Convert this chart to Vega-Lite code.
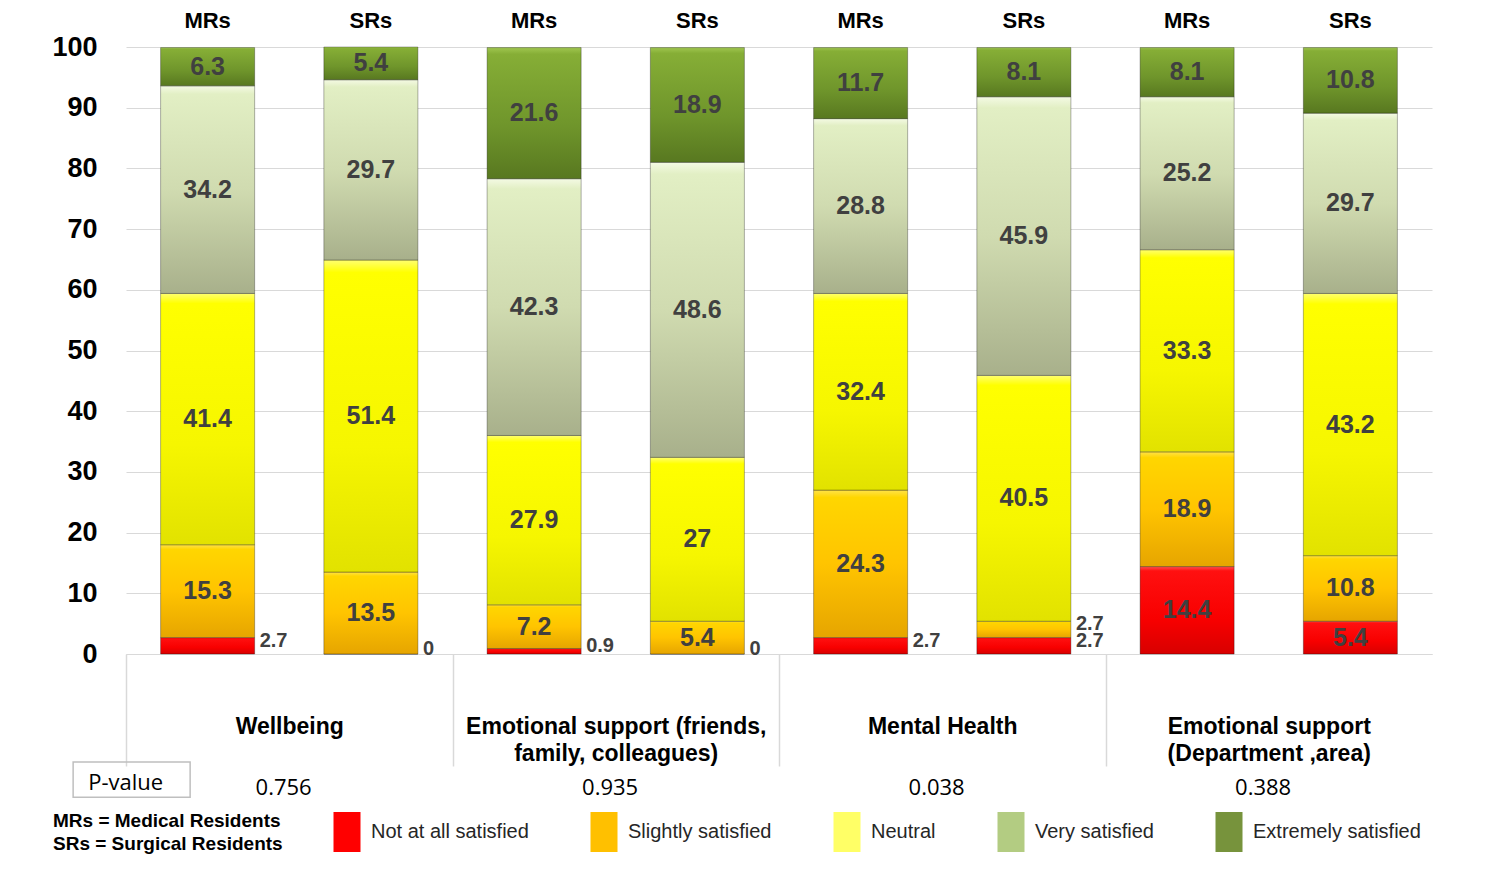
{
  "$schema": "https://vega.github.io/schema/vega-lite/v6.json",
  "autosize": {"type": "none"},
  "width": 1306,
  "height": 607,
  "padding": {"left": 126, "top": 47, "right": 56, "bottom": 237},
  "background": "white",
  "config": {"view": {"stroke": null}, "font": "Liberation Sans"},
  "datasets": {
    "bars": [
      {"bar": "Wellbeing|MRs", "level": "Not at all satisfied", "k": 1, "value": 2.7},
      {"bar": "Wellbeing|MRs", "level": "Slightly satisfied", "k": 2, "value": 15.3},
      {"bar": "Wellbeing|MRs", "level": "Neutral", "k": 3, "value": 41.4},
      {"bar": "Wellbeing|MRs", "level": "Very satisfied", "k": 4, "value": 34.2},
      {"bar": "Wellbeing|MRs", "level": "Extremely satisfied", "k": 5, "value": 6.3},
      {"bar": "Wellbeing|SRs", "level": "Not at all satisfied", "k": 1, "value": 0},
      {"bar": "Wellbeing|SRs", "level": "Slightly satisfied", "k": 2, "value": 13.5},
      {"bar": "Wellbeing|SRs", "level": "Neutral", "k": 3, "value": 51.4},
      {"bar": "Wellbeing|SRs", "level": "Very satisfied", "k": 4, "value": 29.7},
      {"bar": "Wellbeing|SRs", "level": "Extremely satisfied", "k": 5, "value": 5.4},
      {"bar": "Emotional support (friends,\nfamily, colleagues)|MRs", "level": "Not at all satisfied", "k": 1, "value": 0.9},
      {"bar": "Emotional support (friends,\nfamily, colleagues)|MRs", "level": "Slightly satisfied", "k": 2, "value": 7.2},
      {"bar": "Emotional support (friends,\nfamily, colleagues)|MRs", "level": "Neutral", "k": 3, "value": 27.9},
      {"bar": "Emotional support (friends,\nfamily, colleagues)|MRs", "level": "Very satisfied", "k": 4, "value": 42.3},
      {"bar": "Emotional support (friends,\nfamily, colleagues)|MRs", "level": "Extremely satisfied", "k": 5, "value": 21.6},
      {"bar": "Emotional support (friends,\nfamily, colleagues)|SRs", "level": "Not at all satisfied", "k": 1, "value": 0},
      {"bar": "Emotional support (friends,\nfamily, colleagues)|SRs", "level": "Slightly satisfied", "k": 2, "value": 5.4},
      {"bar": "Emotional support (friends,\nfamily, colleagues)|SRs", "level": "Neutral", "k": 3, "value": 27},
      {"bar": "Emotional support (friends,\nfamily, colleagues)|SRs", "level": "Very satisfied", "k": 4, "value": 48.6},
      {"bar": "Emotional support (friends,\nfamily, colleagues)|SRs", "level": "Extremely satisfied", "k": 5, "value": 18.9},
      {"bar": "Mental Health|MRs", "level": "Not at all satisfied", "k": 1, "value": 2.7},
      {"bar": "Mental Health|MRs", "level": "Slightly satisfied", "k": 2, "value": 24.3},
      {"bar": "Mental Health|MRs", "level": "Neutral", "k": 3, "value": 32.4},
      {"bar": "Mental Health|MRs", "level": "Very satisfied", "k": 4, "value": 28.8},
      {"bar": "Mental Health|MRs", "level": "Extremely satisfied", "k": 5, "value": 11.7},
      {"bar": "Mental Health|SRs", "level": "Not at all satisfied", "k": 1, "value": 2.7},
      {"bar": "Mental Health|SRs", "level": "Slightly satisfied", "k": 2, "value": 2.7},
      {"bar": "Mental Health|SRs", "level": "Neutral", "k": 3, "value": 40.5},
      {"bar": "Mental Health|SRs", "level": "Very satisfied", "k": 4, "value": 45.9},
      {"bar": "Mental Health|SRs", "level": "Extremely satisfied", "k": 5, "value": 8.1},
      {"bar": "Emotional support\n(Department ,area)|MRs", "level": "Not at all satisfied", "k": 1, "value": 14.4},
      {"bar": "Emotional support\n(Department ,area)|MRs", "level": "Slightly satisfied", "k": 2, "value": 18.9},
      {"bar": "Emotional support\n(Department ,area)|MRs", "level": "Neutral", "k": 3, "value": 33.3},
      {"bar": "Emotional support\n(Department ,area)|MRs", "level": "Very satisfied", "k": 4, "value": 25.2},
      {"bar": "Emotional support\n(Department ,area)|MRs", "level": "Extremely satisfied", "k": 5, "value": 8.1},
      {"bar": "Emotional support\n(Department ,area)|SRs", "level": "Not at all satisfied", "k": 1, "value": 5.4},
      {"bar": "Emotional support\n(Department ,area)|SRs", "level": "Slightly satisfied", "k": 2, "value": 10.8},
      {"bar": "Emotional support\n(Department ,area)|SRs", "level": "Neutral", "k": 3, "value": 43.2},
      {"bar": "Emotional support\n(Department ,area)|SRs", "level": "Very satisfied", "k": 4, "value": 29.7},
      {"bar": "Emotional support\n(Department ,area)|SRs", "level": "Extremely satisfied", "k": 5, "value": 10.8}
    ],
    "pvals": [
      {"bar": "Wellbeing|MRs", "p": "0.756"},
      {"bar": "Emotional support (friends,\nfamily, colleagues)|MRs", "p": "0.935"},
      {"bar": "Mental Health|MRs", "p": "0.038"},
      {"bar": "Emotional support\n(Department ,area)|MRs", "p": "0.388"}
    ]
  },
  "data": {"name": "bars"},
  "layer": [
    {
      "mark": {"type": "bar", "stroke": "#000000", "strokeOpacity": 0.3, "strokeWidth": 1},
      "encoding": {
        "x": {
          "field": "bar", "type": "nominal", "sort": null,
          "scale": {
            "domain": ["Wellbeing|MRs", "Wellbeing|SRs", "Emotional support (friends,\nfamily, colleagues)|MRs", "Emotional support (friends,\nfamily, colleagues)|SRs", "Mental Health|MRs", "Mental Health|SRs", "Emotional support\n(Department ,area)|MRs", "Emotional support\n(Department ,area)|SRs"],
            "paddingInner": 0.424, "paddingOuter": 0.212
          },
          "axis": {
            "orient": "top", "title": null, "domain": false, "ticks": false, "labelAngle": 0,
            "labelExpr": "split(datum.label, '|')[1]",
            "labelFont": "Liberation Sans", "labelFontWeight": "bold", "labelFontSize": 22, "labelColor": "#000000",
            "labelBaseline": "alphabetic", "labelPadding": 20, "labelOverlap": false
          }
        },
        "y": {
          "field": "value", "type": "quantitative", "stack": "zero",
          "scale": {"domain": [0, 100], "nice": false},
          "axis": {
            "title": null, "values": [0, 10, 20, 30, 40, 50, 60, 70, 80, 90, 100],
            "domain": false, "ticks": false, "grid": true, "gridColor": "#D9D9D9", "gridWidth": 1,
            "labelFont": "Liberation Sans", "labelFontWeight": "bold", "labelFontSize": 27, "labelColor": "#000000", "labelPadding": 29
          }
        },
        "detail": {"field": "level", "type": "nominal"},
        "order": {"field": "k", "type": "quantitative"},
        "color": {
          "condition": [
            {"test": "datum.k == 1", "value": {"gradient": "linear", "x1": 0, "y1": 0, "x2": 0, "y2": 1, "stops": [{"offset": 0, "color": "#FF5050"}, {"offset": 0.05, "color": "#FF1010"}, {"offset": 0.6, "color": "#F80000"}, {"offset": 1, "color": "#D80000"}]}},
            {"test": "datum.k == 2", "value": {"gradient": "linear", "x1": 0, "y1": 0, "x2": 0, "y2": 1, "stops": [{"offset": 0, "color": "#FFE24A"}, {"offset": 0.05, "color": "#FFD600"}, {"offset": 0.5, "color": "#FFC400"}, {"offset": 1, "color": "#E6A500"}]}},
            {"test": "datum.k == 3", "value": {"gradient": "linear", "x1": 0, "y1": 0, "x2": 0, "y2": 1, "stops": [{"offset": 0, "color": "#FFFF70"}, {"offset": 0.04, "color": "#FFFF00"}, {"offset": 0.6, "color": "#F6F600"}, {"offset": 1, "color": "#E2E200"}]}},
            {"test": "datum.k == 4", "value": {"gradient": "linear", "x1": 0, "y1": 0, "x2": 0, "y2": 1, "stops": [{"offset": 0, "color": "#F4FAE4"}, {"offset": 0.04, "color": "#E2EFC4"}, {"offset": 0.5, "color": "#D0DBB0"}, {"offset": 1, "color": "#A8B08B"}]}}
          ],
          "value": {"gradient": "linear", "x1": 0, "y1": 0, "x2": 0, "y2": 1, "stops": [{"offset": 0, "color": "#A0C650"}, {"offset": 0.05, "color": "#86AE36"}, {"offset": 0.6, "color": "#6F952B"}, {"offset": 1, "color": "#587820"}]}
        }
      }
    },
    {
      "mark": {"type": "square", "size": 0, "filled": true, "opacity": 1, "strokeWidth": 0},
      "encoding": {
        "x": {"field": "bar", "type": "nominal", "sort": null, "axis": null},
        "y": {"field": "value", "type": "quantitative", "stack": "zero"},
        "order": {"field": "k", "type": "quantitative"},
        "color": {
          "field": "level", "type": "nominal",
          "scale": {
            "domain": ["Not at all satisfied", "Slightly satisfied", "Neutral", "Very satisfied", "Extremely satisfied"],
            "range": ["#FF0000", "#FFC000", "#FFFF66", "#B3CC82", "#77933C"]
          },
          "legend": {
            "orient": "none", "legendX": -73, "legendY": 765, "direction": "horizontal", "padding": 0,
            "title": ["MRs = Medical Residents", "SRs = Surgical Residents"],
            "titleOrient": "left", "titleFont": "Liberation Sans", "titleFontWeight": "bold", "titleFontSize": 19,
            "titleColor": "#000000", "titleLineHeight": 23, "titlePadding": 44, "titleLimit": 400, "titleAlign": "left",
            "symbolType": "M-0.675,-1L0.675,-1L0.675,1L-0.675,1Z", "symbolSize": 1600, "symbolStrokeWidth": 0, "symbolOpacity": 1,
            "labelFont": "Liberation Sans", "labelFontSize": 20, "labelColor": "#262626", "labelOffset": 4,
            "labelLimit": 300, "columnPadding": 55
          }
        }
      }
    },
    {
      "mark": {"type": "text", "font": "Liberation Sans", "fontWeight": "bold", "fontSize": 25, "color": "#404040", "baseline": "middle"},
      "encoding": {
        "x": {
          "field": "bar", "type": "nominal", "sort": null,
          "axis": {
            "orient": "bottom", "title": null,
            "values": ["Wellbeing|MRs", "Emotional support (friends,\nfamily, colleagues)|MRs", "Mental Health|MRs", "Emotional support\n(Department ,area)|MRs"],
            "domain": true, "domainColor": "#D9D9D9", "domainWidth": 1,
            "ticks": true, "tickColor": "#D9D9D9", "tickWidth": 1.5, "tickSize": 112, "tickOffset": -81.6,
            "labelAngle": 0, "labelExpr": "split(split(datum.label, '|')[0], '\\n')", "labelOffset": 163.2,
            "labelFont": "Liberation Sans", "labelFontWeight": "bold", "labelFontSize": 23, "labelColor": "#000000",
            "labelBaseline": "alphabetic", "labelLineHeight": 27, "labelPadding": -33, "labelLimit": 400,
            "labelOverlap": false, "labelBound": false, "labelFlush": false
          }
        },
        "y": {"field": "value", "type": "quantitative", "stack": "zero", "bandPosition": 0.5},
        "detail": {"field": "level", "type": "nominal"},
        "order": {"field": "k", "type": "quantitative"},
        "text": {"condition": {"test": "datum.value >= 3", "field": "value", "type": "quantitative"}, "value": ""}
      }
    },
    {
      "mark": {"type": "text", "font": "Liberation Sans", "fontWeight": "bold", "fontSize": 20, "color": "#404040", "baseline": "middle", "align": "left", "dx": 52, "dy": -5},
      "encoding": {
        "x": {"field": "bar", "type": "nominal", "sort": null, "axis": null},
        "y": {"field": "value", "type": "quantitative", "stack": "zero", "bandPosition": 0.5},
        "detail": {"field": "level", "type": "nominal"},
        "order": {"field": "k", "type": "quantitative"},
        "text": {"condition": {"test": "datum.value < 3", "field": "value", "type": "quantitative"}, "value": ""}
      }
    },
    {
      "data": {"values": [{"bar": "Wellbeing|MRs", "label": "P-value"}]},
      "mark": {"type": "rect", "fill": null, "stroke": "#BFBFBF", "strokeWidth": 1.5, "width": 117, "xOffset": -76},
      "encoding": {
        "x": {"field": "bar", "type": "nominal", "sort": null, "axis": null},
        "y": {"datum": -17.8},
        "y2": {"datum": -23.6}
      }
    },
    {
      "data": {"values": [{"bar": "Wellbeing|MRs", "label": "P-value"}]},
      "mark": {"type": "text", "font": "Open Sans", "fontSize": 22, "color": "#000000", "align": "center", "baseline": "alphabetic", "dx": -82},
      "encoding": {
        "x": {"field": "bar", "type": "nominal", "sort": null, "axis": null},
        "y": {"datum": -22.4},
        "text": {"field": "label", "type": "nominal"}
      }
    },
    {
      "data": {"name": "pvals"},
      "mark": {"type": "text", "font": "Open Sans", "fontSize": 22, "color": "#000000", "align": "center", "baseline": "alphabetic", "dx": 76},
      "encoding": {
        "x": {"field": "bar", "type": "nominal", "sort": null, "axis": null},
        "y": {"datum": -23.3},
        "text": {"field": "p", "type": "nominal"}
      }
    }
  ],
  "resolve": {"axis": {"x": "independent"}}
}
